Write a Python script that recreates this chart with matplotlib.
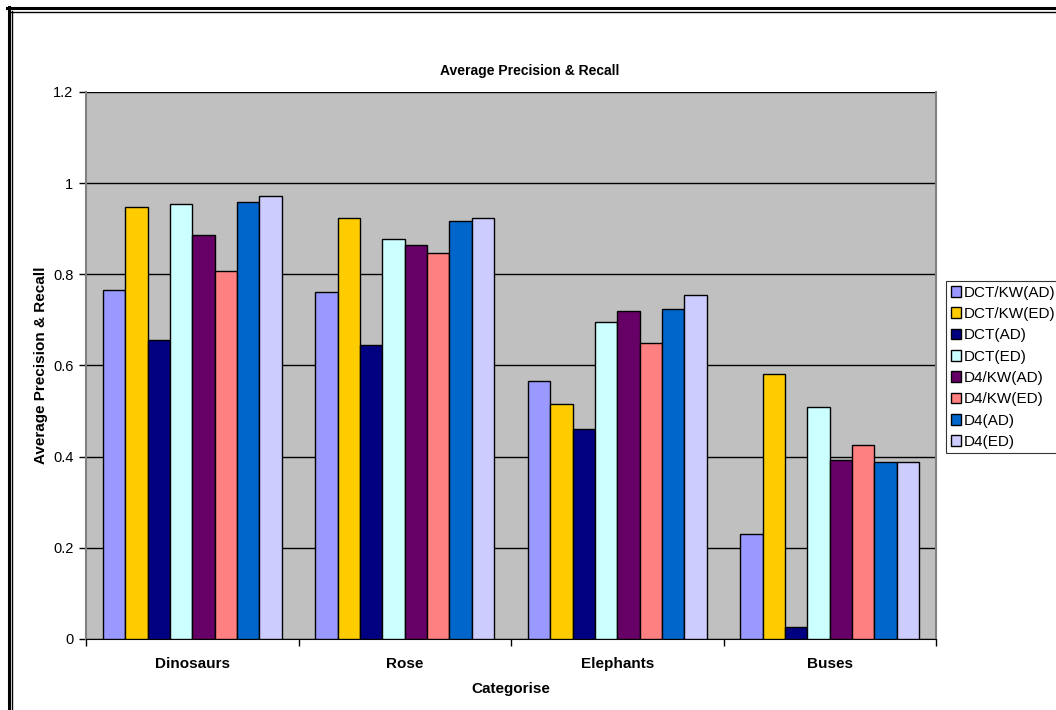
import matplotlib.pyplot as plt
import numpy as np
from matplotlib.lines import Line2D

plt.rcParams['font.family'] = ['Liberation Sans', 'DejaVu Sans']

# Average precision & recall per category and method
categories = ['Dinosaurs', 'Rose', 'Elephants', 'Buses']
methods = ['DCT/KW(AD)', 'DCT/KW(ED)', 'DCT(AD)', 'DCT(ED)',
           'D4/KW(AD)', 'D4/KW(ED)', 'D4(AD)', 'D4(ED)']
dct_kw_ad = [0.766, 0.762, 0.565, 0.230]
dct_kw_ed = [0.948, 0.924, 0.516, 0.581]
dct_ad = [0.656, 0.646, 0.461, 0.026]
dct_ed = [0.954, 0.878, 0.695, 0.509]
d4_kw_ad = [0.886, 0.864, 0.719, 0.392]
d4_kw_ed = [0.808, 0.846, 0.649, 0.426]
d4_ad = [0.959, 0.918, 0.725, 0.388]
d4_ed = [0.972, 0.924, 0.755, 0.389]
series = [dct_kw_ad, dct_kw_ed, dct_ad, dct_ed, d4_kw_ad, d4_kw_ed, d4_ad, d4_ed]
colors = ['#9999FF', '#FFCC00', '#000080', '#CCFFFF',
          '#660066', '#FF8080', '#0066CC', '#CCCCFF']

fig = plt.figure(figsize=(10.56, 7.10), dpi=100)
ax = fig.add_axes([86/1056, 71/710, 850/1056, 547/710])
ax.set_facecolor('#C0C0C0')

x = np.arange(len(categories))
w = 1 / 9.5
for i, (vals, c, name) in enumerate(zip(series, colors, methods)):
    ax.bar(x + (i - 3.5) * w, vals, w, color=c, edgecolor='black',
           linewidth=1, label=name, zorder=3)

ax.set_xlim(-0.5, 3.5)
ax.set_ylim(0, 1.2)
ax.set_yticks(np.arange(0, 1.21, 0.2))
ax.set_yticklabels(['0', '0.2', '0.4', '0.6', '0.8', '1', '1.2'])
ax.yaxis.grid(True, color='black', linewidth=1, zorder=1)
ax.set_axisbelow(True)

# category names sit between boundary ticks
ax.set_xticks(np.arange(-0.5, 3.6, 1))
ax.set_xticklabels([])
ax.set_xticks(x, minor=True)
ax.set_xticklabels(categories, minor=True, fontweight='bold', fontsize=11)
ax.tick_params(axis='x', which='minor', length=0, pad=13)
ax.tick_params(axis='x', which='major', length=5, width=1, direction='out')
ax.tick_params(axis='y', length=5, width=1, labelsize=10.5, pad=4)

for side in ['left', 'right']:
    ax.spines[side].set_color('#808080')
    ax.spines[side].set_linewidth(1.5)
ax.spines['top'].set_visible(False)
ax.spines['bottom'].set_color('black')

ax.set_xlabel('Categorise', fontweight='bold', fontsize=11, labelpad=8)
ax.set_ylabel('Average Precision & Recall', fontweight='bold', fontsize=11, labelpad=4)
fig.text(530/1056, 1 - 71/710, 'Average Precision & Recall',
         ha='center', va='center', fontweight='bold', fontsize=10)

leg = fig.legend(loc='upper left', bbox_to_anchor=(946/1056, 1 - 281/710),
                 fontsize=11, frameon=True, fancybox=False, edgecolor='black',
                 handlelength=0.7, handleheight=0.7, handletextpad=0.15,
                 labelspacing=0.48, borderpad=0.3, borderaxespad=0)
leg.get_frame().set_linewidth(0.8)

# double frame line along the top and left edges
fig.add_artist(Line2D([7/1056, 1], [1 - 8/710, 1 - 8/710], color='black', linewidth=2.2))
fig.add_artist(Line2D([11/1056, 1], [1 - 11.5/710, 1 - 11.5/710], color='black', linewidth=1))
fig.add_artist(Line2D([8.5/1056, 8.5/1056], [0, 1 - 7/710], color='black', linewidth=2.2))
fig.add_artist(Line2D([12/1056, 12/1056], [0, 1 - 11/710], color='black', linewidth=1))

fig.savefig('out.png', dpi=100)
